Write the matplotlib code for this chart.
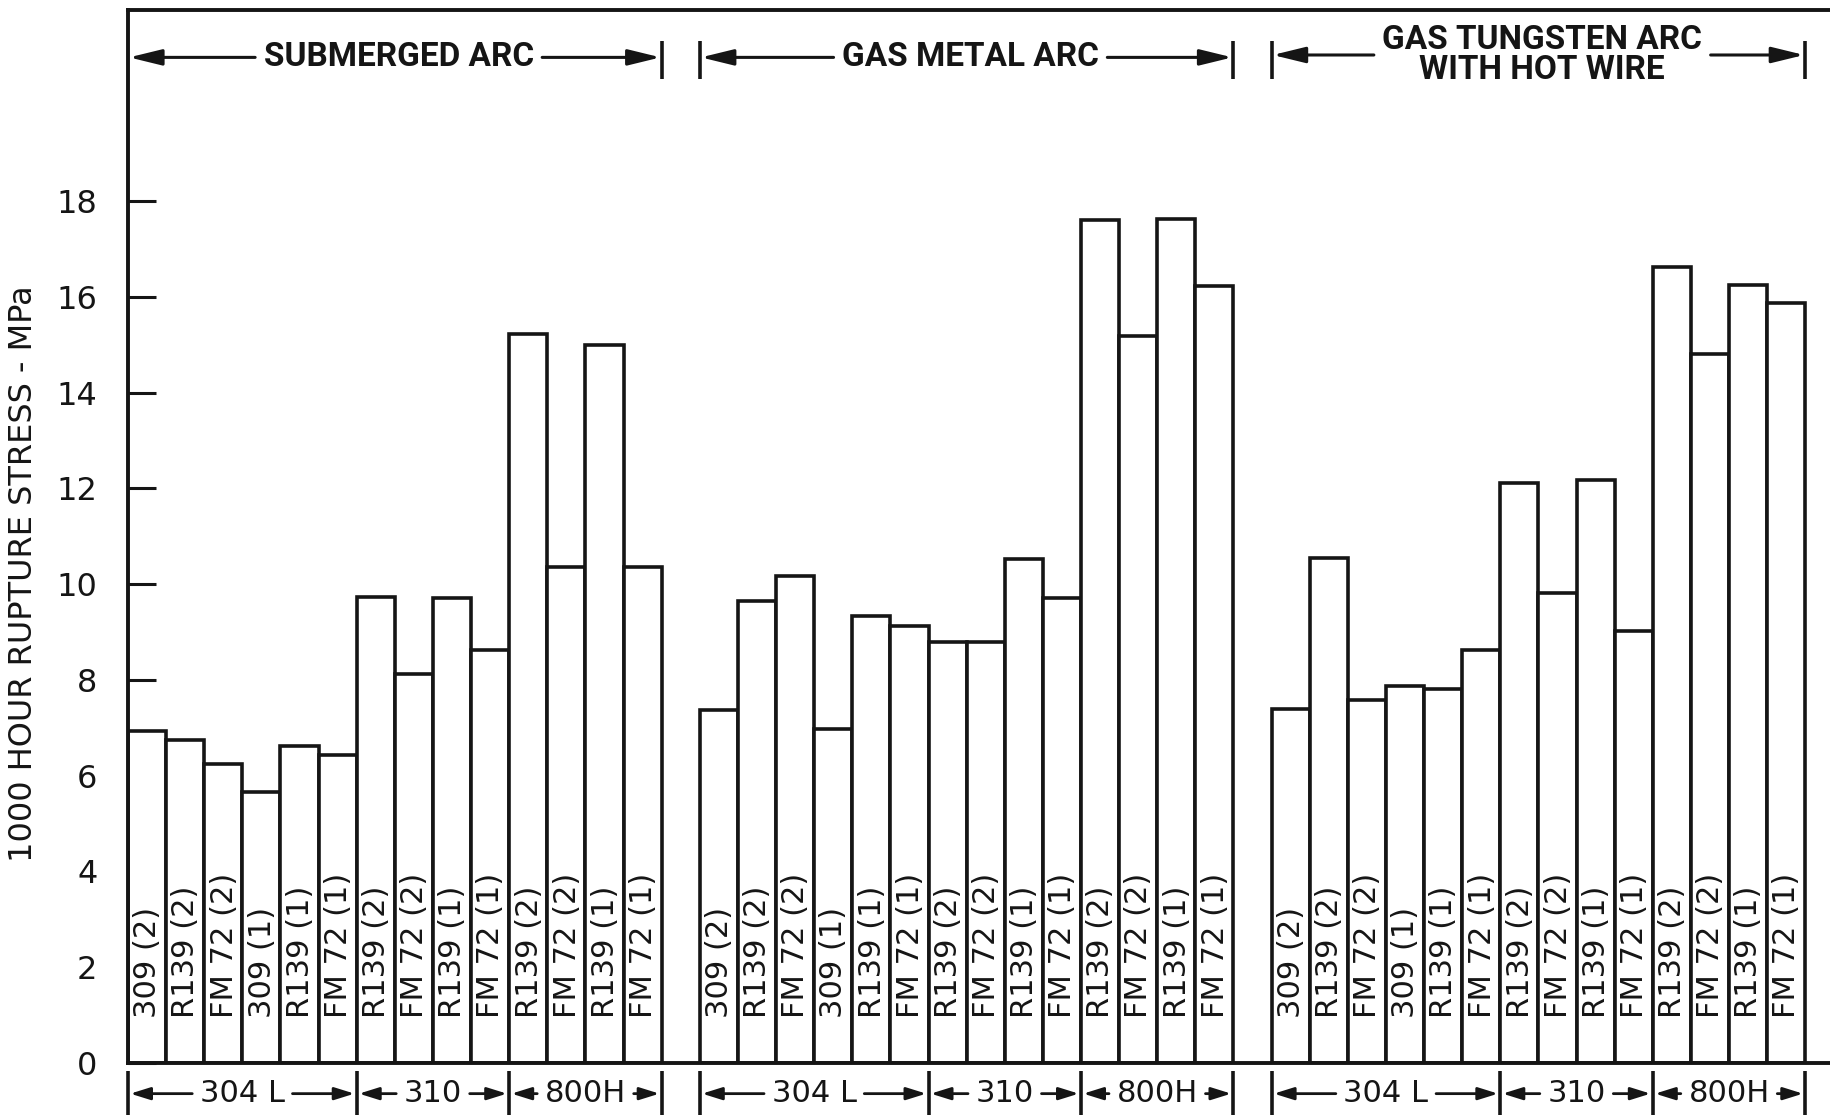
import matplotlib
matplotlib.use("Agg")
import matplotlib.pyplot as plt

# Welding processes (top bands) and base metals (bottom bands)
processes = ["SUBMERGED ARC", "GAS METAL ARC", "GAS TUNGSTEN ARC\nWITH HOT WIRE"]
base_metals = ["304 L", "310", "800H"]
base_metal_bar_counts = [6, 4, 4]

# Filler metal (number of passes) for each bar inside a process group
filler_labels = ["309 (2)", "R139 (2)", "FM 72 (2)", "309 (1)", "R139 (1)", "FM 72 (1)",
                 "R139 (2)", "FM 72 (2)", "R139 (1)", "FM 72 (1)",
                 "R139 (2)", "FM 72 (2)", "R139 (1)", "FM 72 (1)"]

# 1000 hour rupture stress, MPa
submerged_arc = [6.93, 6.74, 6.24, 5.65, 6.63, 6.44,
                 9.73, 8.13, 9.71, 8.63,
                 15.23, 10.36, 15.00, 10.36]
gas_metal_arc = [7.38, 9.64, 10.18, 6.98, 9.33, 9.13,
                 8.80, 8.80, 10.53, 9.71,
                 17.61, 15.18, 17.62, 16.22]
gas_tungsten_arc = [7.40, 10.55, 7.59, 7.88, 7.80, 8.63,
                    12.11, 9.82, 12.18, 9.02,
                    16.63, 14.81, 16.25, 15.87]
series = [submerged_arc, gas_metal_arc, gas_tungsten_arc]

y_ticks = list(range(0, 19, 2))
y_label = "1000 HOUR RUPTURE STRESS - MPa"

plt.rcParams["font.family"] = ["DejaVu Sans"]

W, H = 1830, 1115
fig = plt.figure(figsize=(W / 100, H / 100), dpi=100)
ax_left, ax_bottom, ax_top = 128, 1063, 9.5
ax = fig.add_axes([ax_left / W, (H - ax_bottom) / H, 1 - ax_left / W, (ax_bottom - ax_top) / H])

ink = "#151515"
bar_lw = 2.6
group_step = 15  # 14 bars plus one empty slot between process groups

for g, vals in enumerate(series):
    x0 = g * group_step
    xs = [x0 + i for i in range(len(vals))]
    ax.bar(xs, vals, width=1.0, align="edge", facecolor="white",
           edgecolor=ink, linewidth=bar_lw, zorder=2)
    for x, lab in zip(xs, filler_labels):
        ax.text(x + 0.52, 0.95, lab, rotation=90, ha="center", va="bottom",
                fontsize=22, color=ink, zorder=3)

ax.set_xlim(0, 1702 / 38.12)
ax.set_ylim(0, 22)
ax.set_yticks(y_ticks)
ax.set_xticks([])
ax.tick_params(axis="y", direction="in", length=20, width=2.2, pad=22,
               labelsize=23, colors=ink)
ax.spines["right"].set_visible(False)
for side in ("left", "top", "bottom"):
    ax.spines[side].set_linewidth(2.8)
    ax.spines[side].set_color(ink)

fig.text(24 / W, 1 - 574 / H, y_label, rotation=90, ha="center", va="center",
         fontsize=23, color=ink)

top_arrow = dict(arrowstyle="-|>,head_length=0.9,head_width=0.22", lw=2.2,
                 color=ink, shrinkA=0, shrinkB=0, mutation_scale=22)
bottom_arrow = dict(arrowstyle="-|>,head_length=0.8,head_width=0.25", lw=2.0,
                    color=ink, shrinkA=0, shrinkB=0, mutation_scale=15)


def arrow(x_tail, x_tip, y, props):
    ax.annotate("", xy=(x_tip, y), xytext=(x_tail, y), xycoords="data",
                arrowprops=props, annotation_clip=False)


def vbar(x, y0, y1):
    ax.plot([x, x], [y0, y1], color=ink, lw=2.6, clip_on=False,
            solid_capstyle="butt", zorder=4)


# Process captions across the top
title_texts = []
for g, name in enumerate(processes):
    x0 = g * group_step
    two_line = "\n" in name
    y = 21.05 if two_line else 21.0
    t = ax.text(x0 + 7.1, y, name, ha="center", va="center", fontsize=24,
                family=["Roboto", "DejaVu Sans"], fontweight="bold",
                linespacing=0.95, color=ink)
    title_texts.append((t, x0, y))
    if g > 0:
        vbar(x0, 20.55, 21.35)
    vbar(x0 + 14, 20.55, 21.35)

# Base metal captions along the bottom
bottom_texts = []
y_bottom = -0.64
for g in range(len(processes)):
    start = g * group_step
    vbar(start, -0.17, -1.2)
    for name, n in zip(base_metals, base_metal_bar_counts):
        end = start + n
        t = ax.text((start + end) / 2, y_bottom, name, ha="center", va="center",
                    fontsize=22, color=ink, clip_on=False)
        bottom_texts.append((t, start, end))
        vbar(end, -0.17, -1.2)
        start = end

fig.canvas.draw()
renderer = fig.canvas.get_renderer()
inv = ax.transData.inverted()


def text_span(t):
    bb = t.get_window_extent(renderer)
    (xa, _), (xb, _) = inv.transform([(bb.x0, bb.y0), (bb.x1, bb.y1)])
    return xa, xb


for t, x0, y in title_texts:
    xa, xb = text_span(t)
    arrow(xa - 0.22, x0 + 0.03, y, top_arrow)
    arrow(xb + 0.22, x0 + 14 - 0.03, y, top_arrow)

for t, start, end in bottom_texts:
    xa, xb = text_span(t)
    arrow(xa - 0.2, start + 0.06, y_bottom, bottom_arrow)
    arrow(xb + 0.2, end - 0.06, y_bottom, bottom_arrow)

fig.savefig("out.png", dpi=100, facecolor="white")
